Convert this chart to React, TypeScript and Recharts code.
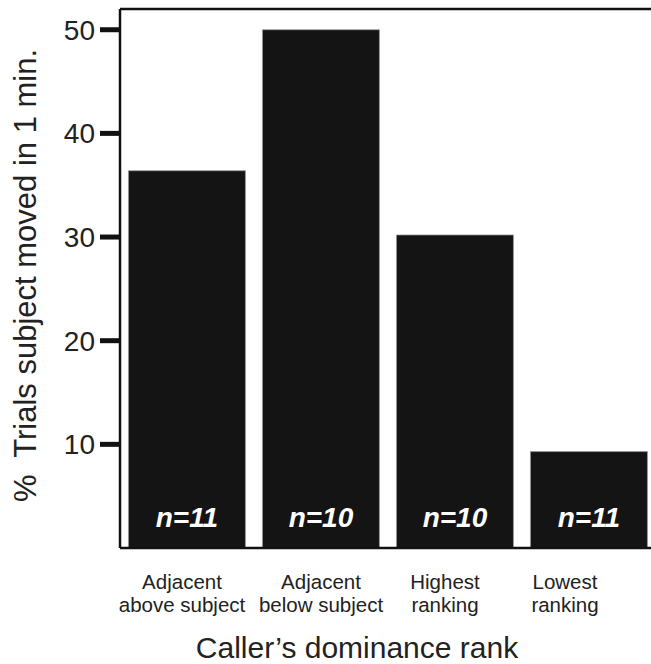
import React from 'react';
import { BarChart, Bar, XAxis, YAxis, LabelList, ReferenceLine, Label } from 'recharts';

const categories = ['Adjacent|above subject', 'Adjacent|below subject', 'Highest|ranking', 'Lowest|ranking'];
const values = [36.4, 50.0, 30.2, 9.3];
const sampleLabels = ['n=11', 'n=10', 'n=10', 'n=11'];
const yTicks = [10, 20, 30, 40, 50];

const tickShift = [-5, 0, -10, -24];

const data = categories.map((c, i) => ({ cat: c, value: values[i], n: sampleLabels[i], idx: i }));

const FONT = '"Liberation Sans", Arial, Helvetica, sans-serif';

const XTick = (props: any) => {
  const { x, y, payload, index } = props;
  const lines = String(payload.value).split('|');
  const shift = tickShift[index] ?? 0;
  return (
    <g transform={`translate(${x + shift},${y})`}>
      {lines.map((l, i) => (
        <text key={i} x={0} y={33 + i * 23} textAnchor="middle" fill="#222" fontSize={20.5} fontFamily={FONT}>
          {l}
        </text>
      ))}
    </g>
  );
};

const NLabel = (props: any) => {
  const { x, y, width, height, value } = props;
  return (
    <text
      x={x + width / 2}
      y={y + height - 21}
      textAnchor="middle"
      fill="#fff"
      fontSize={28}
      fontWeight="bold"
      fontStyle="italic"
      fontFamily={FONT}
    >
      {value}
    </text>
  );
};

const YLabel = (props: any) => {
  const vb = props.viewBox || { x: 0, y: 9, width: 120, height: 539 };
  const cx = 36;
  const cy = vb.y + vb.height / 2 - 3;
  return (
    <text
      x={cx}
      y={cy}
      transform={`rotate(-90,${cx},${cy})`}
      textAnchor="middle"
      fill="#222"
      fontSize={31}
      fontFamily={FONT}
      style={{ whiteSpace: 'pre' }}
    >
      {'%\u00A0 Trials subject moved in 1 min.'}
    </text>
  );
};

const XLabel = (props: any) => {
  const vb = props.viewBox || { x: 120, y: 548, width: 536, height: 116 };
  const cx = vb.x + vb.width / 2 - 31;
  return (
    <text x={cx} y={658} textAnchor="middle" fill="#222" fontSize={30} fontFamily={FONT}>
      {'Caller\u2019s dominance rank'}
    </text>
  );
};

export default function App() {
  return (
    <div style={{ position: 'absolute', left: 0, top: 0, width: 651, height: 664, overflow: 'hidden', background: '#fff' }}>
      <BarChart
        width={680}
        height={664}
        data={data}
        margin={{ top: 9, right: 24, left: 0, bottom: 0 }}
        barCategoryGap="6.3%"
      >
        <XAxis
          dataKey="cat"
          height={116}
          tickLine={false}
          axisLine={{ stroke: '#111', strokeWidth: 2.5 }}
          tick={<XTick />}
          interval={0}
        >
          <Label content={<XLabel />} />
        </XAxis>
        <YAxis
          width={120}
          domain={[0, 52]}
          ticks={yTicks}
          tickSize={20}
          tickMargin={5}
          tickLine={{ stroke: '#111', strokeWidth: 5 }}
          axisLine={{ stroke: '#111', strokeWidth: 2.5 }}
          tick={{ fill: '#222', fontSize: 28, fontFamily: FONT }}
          allowDataOverflow
        >
          <Label content={<YLabel />} />
        </YAxis>
        <ReferenceLine y={52} stroke="#111" strokeWidth={2.5} />
        <Bar dataKey="value" fill="#141414" stroke="#999" strokeWidth={0.8} isAnimationActive={false}>
          <LabelList dataKey="n" content={<NLabel />} />
        </Bar>
      </BarChart>
    </div>
  );
}
